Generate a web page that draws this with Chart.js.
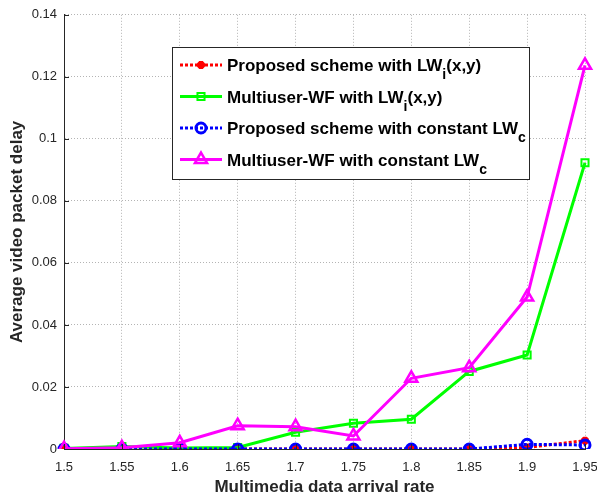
<!DOCTYPE html>
<html>
<head>
<meta charset="utf-8">
<script src="https://cdn.jsdelivr.net/npm/chart.js@4.4.1/dist/chart.umd.min.js"></script>
<style>
  html, body { margin: 0; padding: 0; background: #fff; }
  #wrap { width: 597px; height: 501px; position: relative; }
</style>
</head>
<body>
<div id="wrap"><canvas id="delayChart"></canvas></div>
<script>
// ---------- data ----------
const arrivalRates = ['1.5', '1.55', '1.6', '1.65', '1.7', '1.75', '1.8', '1.85', '1.9', '1.95'];
const proposedLWi   = [0, 0, 0, 0, 0, 0, 0, 0, 0.0005, 0.0027];
const multiuserLWi  = [0.0002, 0.0008, 0.0003, 0.0005, 0.0054, 0.0083, 0.0096, 0.0250, 0.0303, 0.0923];
const proposedLWc   = [0, 0, 0, 0, 0, 0, 0, 0, 0.0015, 0.0013];
const multiuserLWc  = [0.0001, 0.0004, 0.0020, 0.0075, 0.0072, 0.0042, 0.0228, 0.0262, 0.0490, 0.1237];
// legend text split as [before subscript, subscript, after subscript]
const seriesNames = [
    ['Proposed scheme with LW', 'i', '(x,y)'],
    ['Multiuser-WF with LW', 'i', '(x,y)'],
    ['Proposed scheme with constant LW', 'c', ''],
    ['Multiuser-WF with constant LW', 'c', '']
];
const yTicks = [0, 0.02, 0.04, 0.06, 0.08, 0.1, 0.12, 0.14];

const FONT = '"Liberation Sans", Arial, Helvetica, sans-serif';
const none = 'rgba(0,0,0,0)';

// matlab style legend with subscripts
const matLegend = {
    id: 'matLegend',
    afterDatasetsDraw(chart) {
        const ctx = chart.ctx;
        const bx = 172, by = 47, bw = 357, bh = 132;
        ctx.save();
        ctx.fillStyle = '#fff';
        ctx.fillRect(bx, by, bw, bh);
        ctx.strokeStyle = '#262626';
        ctx.lineWidth = 1;
        ctx.setLineDash([]);
        ctx.strokeRect(bx + 0.5, by + 0.5, bw, bh);
        const rowY = [65, 96.5, 128, 159.5];
        chart.data.datasets.forEach((ds, i) => {
            const y = rowY[i];
            ctx.strokeStyle = ds.borderColor;
            ctx.lineWidth = ds.borderWidth;
            ctx.setLineDash(ds.borderDash || []);
            ctx.beginPath();
            ctx.moveTo(180, y);
            ctx.lineTo(222, y);
            ctx.stroke();
            ctx.setLineDash([]);
            ctx.strokeStyle = ds.pointBorderColor;
            ctx.fillStyle = ds.pointBackgroundColor;
            ctx.lineWidth = ds.pointBorderWidth;
            Chart.helpers.drawPoint(ctx, {
                pointStyle: ds.pointStyle, radius: ds.pointRadius,
                borderWidth: ds.pointBorderWidth, rotation: 0
            }, 201, y);
            const parts = seriesNames[i];
            ctx.fillStyle = '#000';
            ctx.textBaseline = 'alphabetic';
            ctx.textAlign = 'left';
            ctx.font = 'bold 17px ' + FONT;
            let tx = 227;
            const base = y + 6;
            ctx.fillText(parts[0], tx, base);
            tx += ctx.measureText(parts[0]).width;
            ctx.font = 'bold 14px ' + FONT;
            ctx.fillText(parts[1], tx, base + 8);
            tx += ctx.measureText(parts[1]).width;
            ctx.font = 'bold 17px ' + FONT;
            ctx.fillText(parts[2], tx, base);
        });
        ctx.restore();
    }
};

// short tick marks pointing into the plot, like matlab
const innerTicks = {
    id: 'innerTicks',
    afterDatasetsDraw(chart) {
        const {ctx, chartArea: a, scales: {x, y}} = chart;
        ctx.save();
        ctx.strokeStyle = '#262626';
        ctx.lineWidth = 1;
        ctx.beginPath();
        yTicks.forEach(v => {
            const py = Math.round(y.getPixelForValue(v)) + 0.5;
            ctx.moveTo(a.left, py); ctx.lineTo(a.left + 5, py);
        });
        arrivalRates.forEach((_, i) => {
            const px = Math.round(x.getPixelForValue(i)) + 0.5;
            ctx.moveTo(px, a.bottom); ctx.lineTo(px, a.bottom - 5);
        });
        ctx.stroke();
        ctx.restore();
    }
};

const gridStyle = { color: '#b4b4b4', lineWidth: 1, drawTicks: false };
const borderStyle = { display: true, color: '#262626', width: 1, dash: [1, 2] };

new Chart(document.getElementById('delayChart'), {
    type: 'line',
    data: {
        labels: arrivalRates,
        datasets: [
            { label: seriesNames[0].join(''), data: proposedLWi, order: 3,
              borderColor: '#ff0000', borderWidth: 3, borderDash: [3, 2],
              pointStyle: 'star', pointRadius: 4, pointBorderWidth: 3,
              pointBorderColor: '#ff0000', pointBackgroundColor: '#ff0000' },
            { label: seriesNames[1].join(''), data: multiuserLWi, order: 2,
              borderColor: '#00ff00', borderWidth: 3,
              pointStyle: 'rect', pointRadius: 5, pointBorderWidth: 2,
              pointBorderColor: '#00ff00', pointBackgroundColor: none },
            { label: seriesNames[2].join(''), data: proposedLWc, order: 1,
              borderColor: '#0000ff', borderWidth: 3, borderDash: [3, 2],
              pointStyle: 'circle', pointRadius: 5, pointBorderWidth: 3,
              pointBorderColor: '#0000ff', pointBackgroundColor: none },
            { label: seriesNames[3].join(''), data: multiuserLWc, order: 0,
              borderColor: '#ff00ff', borderWidth: 3,
              pointStyle: 'triangle', pointRadius: 7, pointBorderWidth: 2.5,
              pointBorderColor: '#ff00ff', pointBackgroundColor: none }
        ]
    },
    options: {
        responsive: true,
        maintainAspectRatio: false,
        animation: false,
        layout: { padding: { top: 14, right: 12, left: 0, bottom: 0 } },
        elements: { line: { tension: 0, fill: false } },
        plugins: { legend: { display: false }, tooltip: { enabled: false } },
        scales: {
            x: {
                type: 'category',
                offset: false,
                grid: gridStyle,
                border: borderStyle,
                ticks: { color: '#262626', font: { family: FONT, size: 13 }, padding: 11, maxRotation: 0, autoSkip: false },
                title: { display: true, text: 'Multimedia data arrival rate', color: '#262626',
                         font: { family: FONT, size: 17, weight: 'bold' }, padding: { top: 0, bottom: 3 } },
                afterFit(s) { s.height = 52; s.paddingLeft = 0; s.paddingRight = 0; }
            },
            y: {
                min: 0, max: 0.14,
                afterBuildTicks(s) { s.ticks = yTicks.map(v => ({ value: v })); },
                grid: gridStyle,
                border: borderStyle,
                ticks: { color: '#262626', font: { family: FONT, size: 13 }, padding: 7,
                         callback: v => String(parseFloat(v.toFixed(4))) },
                title: { display: true, text: 'Average video packet delay', color: '#262626',
                         font: { family: FONT, size: 17, weight: 'bold' }, padding: { top: 7, bottom: 0 } },
                afterFit(s) { s.width = 64; }
            }
        }
    },
    plugins: [innerTicks, matLegend]
});
</script>
</body>
</html>
